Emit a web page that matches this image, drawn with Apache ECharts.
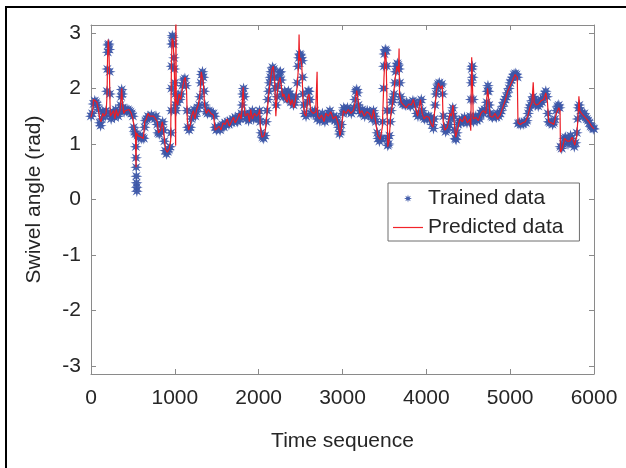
<!DOCTYPE html>
<html>
<head>
<meta charset="utf-8">
<script src="https://cdn.jsdelivr.net/npm/echarts@6/dist/echarts.min.js"></script>
<style>
html,body{margin:0;padding:0;background:#fff;}
#c{width:626px;height:468px;}
</style>
</head>
<body>
<div id="c"></div>
<script>
// ---- data ----
const xTicks = [0, 1000, 2000, 3000, 4000, 5000, 6000];
const yTicks = [-3, -2, -1, 0, 1, 2, 3];
const seriesNames = ['Trained data', 'Predicted data'];

const trainedData = [
[0,1.50],[15,1.55],[30,1.72],[45,1.78],[60,1.75],[75,1.70],[90,1.62],[105,1.38],[115,1.33],[125,1.45],[140,1.58],[155,1.55],[170,1.50],[180,1.60],[190,1.95],[195,2.35],[200,2.65],[205,2.78],[212,2.80],[218,2.70],[222,2.30],[226,1.90],[230,1.55],[240,1.45],
[250,1.50],[265,1.58],[280,1.48],[295,1.62],[310,1.55],[325,1.50],[340,1.58],[352,1.70],[360,1.85],[366,1.98],[372,1.90],[380,1.65],[395,1.58],[410,1.62],[425,1.60],[440,1.62],[455,1.60],[470,1.58],[485,1.55],[500,1.50],[510,1.30],[520,1.22],[530,1.18],[535,0.95],[537,0.75],[539,0.58],[541,0.42],[543,0.30],[545,0.22],[547,0.15],[555,1.15],[570,1.12],[585,1.15],[600,1.10],[615,1.12],[630,1.10],
[640,1.30],[650,1.42],[665,1.45],[680,1.50],[700,1.48],[720,1.52],[740,1.48],[760,1.45],[775,1.50],[790,1.35],[800,1.20],[815,1.18],[830,1.22],[845,1.35],[855,1.40],[865,1.25],[875,1.05],[885,0.88],[900,0.82],[915,0.86],[930,0.90],[945,0.95],[955,1.20],[958,1.60],[960,2.00],[962,2.40],[965,2.80],[970,2.95],[978,2.92],[985,2.80],[990,2.55],
[995,2.35],[1000,2.10],[1005,1.90],[1010,1.70],[1015,1.60],[1030,1.75],[1045,1.85],[1060,1.80],[1075,1.90],[1090,2.05],[1105,2.15],[1120,2.18],[1135,2.05],[1145,1.60],[1155,1.30],[1170,1.25],[1185,1.30],[1200,1.45],[1215,1.55],[1230,1.62],[1245,1.50],[1260,1.58],[1275,1.65],[1290,1.70],[1300,1.85],[1310,2.10],[1320,2.25],[1330,2.30],[1340,2.20],[1350,1.95],[1360,1.70],[1375,1.58],[1390,1.55],[1405,1.60],[1420,1.58],[1440,1.55],[1460,1.55],[1475,1.50],[1482,1.30],
[1495,1.25],[1510,1.28],[1525,1.30],[1540,1.25],[1555,1.32],[1570,1.35],[1585,1.30],[1600,1.38],[1615,1.35],[1630,1.40],[1645,1.35],[1660,1.42],[1675,1.38],[1690,1.45],[1705,1.40],[1720,1.48],[1735,1.42],[1750,1.40],[1765,1.50],[1780,1.45],[1795,1.55],[1805,1.70],[1812,1.90],[1820,2.00],[1828,1.85],[1835,1.55],[1850,1.45],[1865,1.50],[1880,1.42],[1895,1.55],[1910,1.48],[1925,1.60],[1940,1.45],[1955,1.50],[1970,1.48],[1985,1.55],[2000,1.45],[2010,1.60],[2018,1.40],
[2030,1.20],[2045,1.12],[2060,1.10],[2075,1.15],[2090,1.40],[2100,1.60],[2110,1.80],[2120,1.95],[2130,2.10],[2140,2.20],[2150,2.30],[2165,2.38],[2180,2.35],[2190,2.20],[2200,2.00],[2210,1.70],[2220,1.85],[2230,2.05],[2240,2.20],[2250,2.28],[2260,2.30],[2270,2.15],[2280,1.90],[2295,1.85],[2310,1.95],[2325,1.85],[2340,1.80],[2355,1.95],[2370,1.90],[2385,1.75],[2400,1.85],[2415,1.70],[2430,1.75],[2445,1.85],[2460,2.10],[2470,2.40],[2480,2.55],[2490,2.62],[2500,2.60],[2510,2.55],[2520,2.50],[2525,2.20],[2530,1.90],[2540,1.70],[2550,1.55],
[2565,1.50],[2580,1.75],[2590,1.95],[2600,1.95],[2612,1.80],[2625,1.55],[2640,1.58],[2655,1.55],[2670,1.60],[2685,1.55],[2700,1.45],[2715,1.50],[2730,1.42],[2745,1.48],[2760,1.55],[2775,1.45],[2790,1.40],[2805,1.50],[2820,1.45],[2835,1.55],[2850,1.60],[2865,1.48],[2880,1.45],[2895,1.50],[2910,1.42],[2925,1.48],[2940,1.40],[2955,1.30],[2965,1.18],[2975,1.22],[2985,1.35],
[3000,1.55],[3015,1.65],[3030,1.62],[3045,1.58],[3060,1.65],[3075,1.60],[3090,1.62],[3105,1.55],[3120,1.60],[3135,1.65],[3150,1.80],[3160,1.95],[3170,1.98],[3180,1.92],[3190,1.70],[3205,1.60],[3220,1.55],[3235,1.62],[3250,1.55],[3265,1.50],[3280,1.55],[3295,1.60],[3310,1.52],[3325,1.58],[3340,1.55],[3355,1.45],[3370,1.60],[3385,1.50],[3400,1.40],[3415,1.20],[3425,1.10],[3440,1.05],[3455,1.10],
[3470,1.10],[3480,1.40],[3490,2.00],[3495,2.40],[3500,2.62],[3510,2.70],[3520,2.68],[3528,2.40],[3532,1.60],[3536,1.10],[3540,0.97],[3550,1.00],[3560,1.15],[3570,1.40],[3580,1.60],[3590,1.75],[3600,1.80],[3615,1.90],[3625,2.10],[3635,2.30],[3645,2.40],[3655,2.45],[3665,2.42],[3675,2.35],[3685,2.10],[3695,1.85],[3705,1.75],[3720,1.72],
[3735,1.72],[3750,1.70],[3765,1.75],[3780,1.72],[3795,1.70],[3810,1.68],[3825,1.72],[3840,1.78],[3855,1.75],[3870,1.70],[3885,1.55],[3900,1.50],[3915,1.55],[3925,1.75],[3940,1.80],[3955,1.60],[3965,1.48],[3980,1.45],[3995,1.50],[4010,1.45],[4025,1.50],[4040,1.45],[4055,1.48],[4070,1.35],[4085,1.28],[4095,1.45],[4105,1.70],[4115,1.90],[4125,2.00],[4140,2.08],[4155,2.10],[4170,2.05],[4185,2.08],[4195,1.90],[4205,1.50],[4215,1.30],[4230,1.22],[4245,1.25],[4260,1.30],
[4275,1.35],[4290,1.45],[4305,1.55],[4315,1.65],[4325,1.50],[4335,1.25],[4345,1.10],[4355,1.08],[4365,1.20],[4380,1.35],[4395,1.42],[4410,1.38],[4425,1.45],[4440,1.40],[4455,1.48],[4470,1.42],[4485,1.38],[4500,1.45],[4515,1.40],[4525,1.50],[4532,1.80],[4538,2.10],[4542,2.35],[4548,2.40],[4553,2.20],[4558,1.80],[4563,1.40],[4575,1.45],[4590,1.50],[4605,1.42],[4620,1.48],[4635,1.45],[4650,1.55],[4665,1.60],[4680,1.55],[4695,1.62],[4710,1.60],[4720,1.75],[4728,1.95],[4735,2.05],[4742,1.95],[4750,1.70],[4760,1.55],[4775,1.50],[4790,1.48],[4805,1.52],[4820,1.50],[4835,1.48],[4850,1.55],[4865,1.50],[4880,1.55],
[4895,1.60],[4910,1.68],[4925,1.75],[4940,1.80],[4955,1.85],[4970,1.92],[4985,2.00],[5000,2.10],[5015,2.15],[5030,2.20],[5045,2.25],[5060,2.27],[5075,2.25],[5088,2.20],[5095,1.37],
[5110,1.38],[5125,1.35],[5140,1.38],[5155,1.36],[5170,1.40],[5185,1.38],[5200,1.42],[5215,1.55],[5230,1.65],[5245,1.70],[5260,1.78],[5275,1.85],[5290,1.80],[5305,1.70],[5320,1.75],[5335,1.68],[5350,1.72],[5365,1.80],[5380,1.75],[5395,1.82],[5410,1.90],[5425,1.95],[5440,1.85],[5450,1.55],[5460,1.40],[5475,1.38],[5490,1.40],[5505,1.35],[5520,1.38],[5535,1.45],[5550,1.60],[5565,1.68],[5580,1.70],[5590,1.65],
[5600,0.95],[5615,0.92],[5630,1.00],[5645,1.10],[5660,1.12],[5675,1.08],[5690,1.00],[5705,1.05],[5720,1.15],[5735,1.10],[5750,1.00],[5765,0.95],[5780,1.02],[5795,1.20],[5805,1.45],[5815,1.65],[5825,1.70],[5840,1.60],[5855,1.55],[5870,1.50],[5885,1.55],[5900,1.48],[5915,1.45],[5930,1.42],[5945,1.38],[5960,1.32],[5975,1.30],[5990,1.28],[6000,1.27]
];

const predictedData = [
[0,1.48],[20,1.60],[30,1.80],[50,1.78],[70,1.75],[90,1.60],[105,1.45],[120,1.40],[140,1.55],[160,1.50],[180,1.55],[192,1.90],[198,2.60],[205,2.88],[212,2.75],[218,2.45],[224,1.95],[230,1.50],[250,1.55],[270,1.60],[285,1.45],[300,1.62],[320,1.50],[345,1.60],[358,1.80],[366,2.00],[375,1.75],[390,1.55],[410,1.60],[430,1.58],[455,1.62],[480,1.55],[500,1.45],[515,1.30],[530,1.20],[537,0.58],[542,1.20],[560,1.15],[580,1.18],[600,1.12],[625,1.10],
[640,1.40],[660,1.45],[680,1.55],[700,1.50],[720,1.48],[745,1.50],[770,1.45],[790,1.40],[805,1.20],[830,1.25],[850,1.40],[862,1.30],[875,1.10],[890,0.90],[910,0.85],[935,0.92],[950,1.05],[960,2.50],[968,2.90],[980,2.85],[992,2.45],[1005,1.50],[1010,0.97],[1013,3.30],[1017,1.80],[1035,1.70],[1050,1.90],[1070,1.80],[1090,2.00],[1110,2.15],[1125,2.20],[1140,1.95],[1150,1.40],[1165,1.25],[1185,1.35],[1200,1.50],[1220,1.60],[1240,1.45],[1260,1.62],[1280,1.70],[1300,1.90],[1315,2.30],[1325,2.30],[1340,2.10],[1355,1.70],[1375,1.55],[1400,1.62],[1430,1.55],[1460,1.52],[1478,1.55],[1482,1.25],
[1500,1.28],[1530,1.32],[1550,1.25],[1575,1.38],[1600,1.35],[1625,1.45],[1650,1.32],[1675,1.40],[1700,1.48],[1720,1.38],[1745,1.45],[1770,1.55],[1790,1.45],[1800,1.60],[1815,2.02],[1825,1.70],[1840,1.50],[1870,1.55],[1890,1.40],[1905,1.62],[1925,1.45],[1950,1.55],[1975,1.50],[2000,1.55],[2012,1.62],[2020,1.30],[2040,1.12],[2065,1.15],[2080,1.25],[2100,1.55],[2120,1.90],[2140,2.15],[2160,2.35],[2175,2.40],[2190,2.15],[2205,1.50],[2215,1.80],[2235,2.10],[2255,2.20],[2270,2.05],[2285,1.85],[2300,1.90],[2320,1.80],[2340,1.75],[2360,1.90],[2380,1.70],[2400,1.80],[2420,1.65],[2440,1.80],[2460,2.05],[2475,2.40],[2482,2.97],[2488,2.50],[2500,2.55],[2515,2.40],[2528,1.80],[2545,1.55],
[2565,1.50],[2585,1.85],[2600,1.90],[2620,1.60],[2650,1.55],[2680,1.58],[2697,2.30],[2703,1.50],[2725,1.45],[2750,1.52],[2780,1.40],[2800,1.55],[2830,1.50],[2860,1.58],[2890,1.45],[2920,1.50],[2950,1.35],[2970,1.15],[2990,1.30],[3010,1.60],[3040,1.55],[3070,1.62],[3100,1.55],[3130,1.60],[3150,1.75],[3170,1.96],[3185,1.80],[3205,1.55],[3230,1.60],[3260,1.50],[3290,1.58],[3320,1.55],[3350,1.45],[3370,1.62],[3395,1.40],[3420,1.15],[3450,1.08],[3475,1.30],[3495,2.20],[3510,2.65],[3520,2.55],[3530,1.80],[3540,0.95],[3555,1.05],[3575,1.50],[3600,1.75],[3630,2.20],[3650,2.40],[3668,2.30],[3675,2.72],[3680,1.90],[3700,1.75],
[3730,1.70],[3760,1.65],[3790,1.72],[3820,1.70],[3845,1.80],[3870,1.65],[3895,1.50],[3930,1.80],[3950,1.55],[3975,1.45],[4000,1.50],[4030,1.48],[4060,1.35],[4080,1.30],[4100,1.60],[4120,1.95],[4145,2.10],[4170,2.00],[4190,2.05],[4200,1.40],[4220,1.25],[4250,1.30],[4283,1.55],[4300,1.50],[4318,1.70],[4335,1.35],[4350,1.12],[4370,1.25],[4400,1.45],[4430,1.40],[4460,1.50],[4490,1.38],[4520,1.45],[4530,1.24],[4541,2.56],[4550,2.10],[4560,1.45],[4590,1.48],[4620,1.42],[4650,1.55],[4680,1.60],[4710,1.55],[4730,2.00],[4745,1.80],[4760,1.50],[4790,1.48],[4820,1.55],[4850,1.45],[4880,1.52],
[4910,1.65],[4940,1.78],[4970,1.95],[5000,2.05],[5030,2.15],[5060,2.25],[5085,2.20],[5093,1.38],[5120,1.35],[5150,1.38],[5180,1.40],[5210,1.50],[5240,1.68],[5260,1.75],[5275,2.11],[5285,1.75],[5310,1.70],[5340,1.72],[5370,1.78],[5400,1.80],[5425,1.92],[5445,1.75],[5460,1.40],[5490,1.38],[5520,1.35],[5550,1.55],[5580,1.65],[5595,1.60],[5600,0.85],[5620,0.92],[5650,1.10],[5680,1.05],[5710,1.05],[5740,1.12],[5770,0.98],[5795,1.15],[5810,1.50],[5820,1.86],[5830,1.60],[5850,1.55],[5880,1.50],[5910,1.45],[5940,1.40],[5970,1.32],[6000,1.27]
];

// ---- styling ----
function asteriskPath(inner) {
  const pts = [];
  for (let k = 0; k < 16; k++) {
    const a = k * Math.PI / 8;
    const r = (k % 2 === 0) ? 10 : inner;
    pts.push((r * Math.cos(a)).toFixed(2) + ',' + (r * Math.sin(a)).toFixed(2));
  }
  return 'path://M' + pts.join(' L') + ' Z';
}
const STAR = asteriskPath(4.2);
const LINE_ICON = 'path://M0,0 L30,0 L30,1.2 L0,1.2 Z';
const FONT = 'Liberation Sans';
const TXT = '#262626';
const AX = '#8a8a8a';
const BLUE = '#3c56a8';
const RED = '#ec1c24';
const FS = 21;

const chart = echarts.init(document.getElementById('c'), null, {renderer: 'canvas'});
function tickStyle(vals) {
  return {show: true, inside: true, length: 5, lineStyle: {color: AX}, customValues: vals};
}
const lineStyle = {show: true, onZero: false, lineStyle: {color: AX, width: 1}};
chart.setOption({
  animation: false,
  backgroundColor: '#fff',
  textStyle: {fontFamily: FONT},
  grid: {left: 91, top: 25, width: 503, height: 349, containLabel: false},
  xAxis: [
    {
      type: 'value', min: 0, max: 6000, interval: 1000, position: 'bottom',
      axisLine: lineStyle, axisTick: tickStyle(xTicks), splitLine: {show: false},
      axisLabel: {customValues: xTicks, color: TXT, fontSize: FS, fontFamily: FONT, margin: 14,
                  formatter: v => String(v)},
      name: 'Time sequence', nameLocation: 'middle', nameGap: 57,
      nameTextStyle: {color: TXT, fontSize: FS, fontFamily: FONT}
    },
    {
      type: 'value', min: 0, max: 6000, interval: 1000, position: 'top',
      axisLine: lineStyle, axisTick: tickStyle(xTicks), splitLine: {show: false},
      axisLabel: {show: false}
    }
  ],
  yAxis: [
    {
      type: 'value', min: -Math.PI, max: Math.PI, position: 'left',
      axisLine: lineStyle, axisTick: tickStyle(yTicks), splitLine: {show: false},
      axisLabel: {customValues: yTicks, color: TXT, fontSize: FS, fontFamily: FONT, margin: 10,
                  formatter: v => String(v)},
      name: 'Swivel angle (rad)', nameLocation: 'middle', nameGap: 46,
      nameTextStyle: {color: TXT, fontSize: FS, fontFamily: FONT}
    },
    {
      type: 'value', min: -Math.PI, max: Math.PI, position: 'right',
      axisLine: lineStyle, axisTick: tickStyle(yTicks), splitLine: {show: false},
      axisLabel: {show: false}
    }
  ],
  legend: {
    orient: 'vertical', left: 388, top: 183,
    padding: [5, 16, 3, 5], itemGap: 8,
    itemWidth: 30, itemHeight: 8,
    backgroundColor: '#fff', borderColor: '#6e6e6e', borderWidth: 1,
    textStyle: {color: TXT, fontSize: FS, fontFamily: FONT},
    data: [
      {name: seriesNames[0], icon: STAR, itemStyle: {color: BLUE}},
      {name: seriesNames[1], icon: LINE_ICON, itemStyle: {color: '#f2242a'}}
    ]
  },
  series: [
    {
      name: seriesNames[0], type: 'scatter', xAxisIndex: 0, yAxisIndex: 0,
      symbol: STAR, symbolSize: 12,
      itemStyle: {color: BLUE, opacity: 0.95},
      data: trainedData, z: 2
    },
    {
      name: seriesNames[1], type: 'line', xAxisIndex: 0, yAxisIndex: 0,
      symbol: 'none', showSymbol: false,
      lineStyle: {color: RED, width: 1.2},
      itemStyle: {color: RED},
      data: predictedData, z: 3, clip: true
    }
  ],
  graphic: [
    {type: 'rect', shape: {x: 6, y: 7, width: 800, height: 800}, style: {fill: 'none', stroke: '#000', lineWidth: 2}, silent: true, z: 10}
  ]
});
</script>
</body>
</html>
